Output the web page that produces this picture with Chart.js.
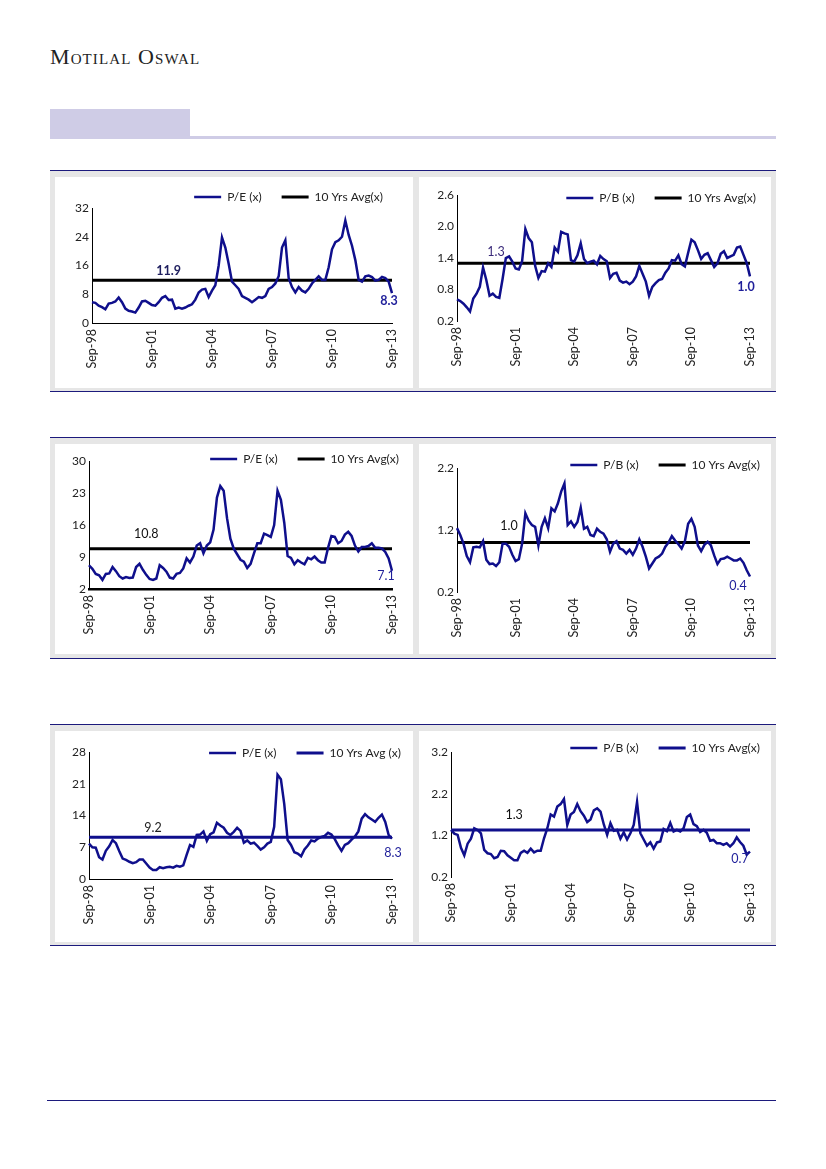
<!DOCTYPE html>
<html>
<head>
<meta charset="utf-8">
<script src="https://cdn.jsdelivr.net/npm/chart.js@4.4.1/dist/chart.umd.min.js"></script>
<style>
  body { margin: 0; background: #fff; }
  #page { position: relative; width: 826px; height: 1169px; background: #fff; overflow: hidden; }
  .abs { position: absolute; }
  .brand { left: 50px; top: 44px; font-family: "Liberation Serif", serif; font-variant: small-caps; font-size: 22px; letter-spacing: 1.1px; color: #222; }
  .tab { left: 50px; top: 109px; width: 140px; height: 30px; background: #cfcce6; }
  .tabline { left: 190px; top: 136px; width: 586px; height: 3px; background: #cfcce6; }
  .band { left: 50px; width: 726px; height: 220px; background: #e6e6e6; border-top: 1.5px solid #1c1a7c; border-bottom: 1.5px solid #1c1a7c; }
  .panel { background: #fff; }
  .foot { left: 47px; top: 1100px; width: 729px; height: 1px; background: #1c1a7c; }
</style>
</head>
<body>
<div id="page">
  <div class="abs brand">Motilal Oswal</div>
  <div class="abs tab"></div>
  <div class="abs tabline"></div>

  <div class="abs band" style="top:170px"></div>
  <div class="abs band" style="top:437px"></div>
  <div class="abs band" style="top:724px"></div>

  <canvas id="c1" class="abs panel" width="358" height="211" style="left:55px;top:177px"></canvas>
  <canvas id="c2" class="abs panel" width="352" height="211" style="left:419px;top:177px"></canvas>
  <canvas id="c3" class="abs panel" width="358" height="210" style="left:55px;top:444px"></canvas>
  <canvas id="c4" class="abs panel" width="352" height="210" style="left:419px;top:444px"></canvas>
  <canvas id="c5" class="abs panel" width="358" height="211" style="left:55px;top:731px"></canvas>
  <canvas id="c6" class="abs panel" width="352" height="211" style="left:419px;top:731px"></canvas>

  <div class="abs foot"></div>
</div>

<script>
// two-monthly points, Sep-98 .. Sep-13
const monthNames = ['Jan','Feb','Mar','Apr','May','Jun','Jul','Aug','Sep','Oct','Nov','Dec'];
const periods = [];
for (let i = 0; i < 91; i++) {
  const m = 8 + 2 * i;
  periods.push(monthNames[m % 12] + '-' + String((98 + Math.floor(m / 12)) % 100).padStart(2, '0'));
}
const tickLabels = ['Sep-98', 'Sep-01', 'Sep-04', 'Sep-07', 'Sep-10', 'Sep-13'];

const pe1 = [5.8,5.6,4.8,4.4,3.8,5.4,5.6,6.0,7.1,5.8,
  4.0,3.4,3.2,2.9,4.3,6.0,6.2,5.6,5.0,4.8,
  5.8,7.0,7.5,6.4,6.5,4.0,4.3,4.0,4.3,4.8,
  5.2,6.5,8.5,9.3,9.5,7.2,9.0,10.5,16.0,23.8,
  21.0,16.5,11.5,10.5,9.5,7.5,7.0,6.5,5.8,6.5,
  7.2,7.0,7.5,9.5,10.0,11.0,13.0,21.0,23.0,12.5,
  10.0,8.5,10.0,9.0,8.5,9.5,11.0,12.0,13.0,12.0,
  12.0,15.5,20.5,22.5,23.0,24.0,28.5,24.5,21.5,17.5,
  12.0,11.5,13.0,13.2,12.8,11.8,12.0,12.8,12.5,11.5,
  8.3];
const pb1 = [0.61,0.58,0.53,0.46,0.38,0.63,0.72,0.85,1.22,0.98,
  0.68,0.72,0.66,0.64,1.00,1.40,1.43,1.33,1.20,1.18,
  1.34,1.95,1.78,1.70,1.25,1.02,1.15,1.14,1.30,1.23,
  1.60,1.52,1.90,1.87,1.85,1.36,1.33,1.45,1.68,1.38,
  1.30,1.33,1.35,1.28,1.44,1.38,1.34,1.02,1.10,1.12,
  0.97,0.93,0.95,0.90,0.95,1.05,1.25,1.10,0.95,0.68,
  0.85,0.92,0.98,1.00,1.12,1.20,1.36,1.35,1.45,1.28,
  1.24,1.50,1.75,1.70,1.55,1.38,1.46,1.49,1.36,1.23,
  1.30,1.48,1.53,1.40,1.43,1.46,1.60,1.62,1.46,1.30,
  1.05];
const pe2 = [7.2,6.4,5.3,5.0,4.0,5.3,5.4,6.8,5.9,4.8,
  4.3,4.6,4.4,4.5,6.8,7.5,6.2,5.1,4.2,4.0,
  4.3,7.2,6.6,5.8,4.5,4.3,5.3,5.5,6.5,8.7,
  7.8,9.1,11.5,12.0,9.8,11.5,12.2,15.0,22.0,24.5,
  23.5,17.5,13.0,10.8,9.6,8.4,8.0,6.6,7.5,9.8,
  12.0,12.0,14.1,13.8,13.4,16.0,23.5,21.5,16.5,9.2,
  8.8,7.4,8.3,7.8,7.4,8.8,8.5,9.1,8.3,7.8,
  7.8,11.0,13.6,13.4,12.0,12.5,13.9,14.5,13.6,11.5,
  10.2,11.2,11.2,11.4,12.0,11.0,11.0,10.9,10.1,8.7,
  6.0];
const pb2 = [1.23,1.12,0.98,0.78,0.68,0.92,0.93,0.92,1.02,0.72,
  0.65,0.66,0.62,0.68,0.98,0.98,0.93,0.80,0.70,0.73,
  0.98,1.47,1.35,1.28,1.25,0.95,1.25,1.39,1.23,1.55,
  1.50,1.63,1.82,1.95,1.28,1.34,1.25,1.33,1.56,1.22,
  1.25,1.12,1.10,1.22,1.17,1.14,1.05,0.85,0.98,1.02,
  0.90,0.88,0.82,0.88,0.80,0.90,1.05,0.93,0.77,0.58,
  0.66,0.74,0.77,0.82,0.93,1.00,1.10,1.03,0.97,0.90,
  1.02,1.30,1.38,1.25,0.95,0.86,0.96,1.01,0.95,0.79,
  0.65,0.73,0.74,0.77,0.74,0.71,0.71,0.74,0.67,0.55,
  0.45];
const pe3 = [7.8,7.0,6.9,4.8,4.3,6.2,7.2,8.6,7.9,6.1,
  4.5,4.2,3.8,3.5,3.7,4.3,4.3,3.4,2.5,2.0,
  2.0,2.6,2.4,2.6,2.7,2.5,2.9,2.7,3.0,5.3,
  7.5,7.1,9.7,9.8,10.5,8.4,9.9,10.3,12.4,11.8,
  11.3,10.2,9.7,10.4,11.3,10.6,8.0,8.5,7.8,8.0,
  7.3,6.5,7.0,7.8,8.2,11.5,23.0,22.0,16.5,8.6,
  7.5,5.9,5.6,5.0,6.5,7.4,8.5,8.3,8.9,9.3,
  9.5,10.2,9.8,8.8,7.4,6.2,7.5,7.9,8.7,9.4,
  10.5,13.3,14.3,13.6,13.1,12.6,13.5,14.2,12.6,9.7,
  8.9];
const pb3 = [1.33,1.24,1.21,0.90,0.72,1.00,1.12,1.37,1.33,1.25,
  0.85,0.77,0.75,0.65,0.68,0.83,0.82,0.72,0.66,0.60,
  0.60,0.78,0.83,0.78,0.88,0.79,0.83,0.83,1.13,1.37,
  1.70,1.65,1.89,1.95,2.07,1.45,1.70,1.76,1.95,1.78,
  1.67,1.52,1.58,1.80,1.85,1.77,1.46,1.21,1.49,1.31,
  1.33,1.12,1.27,1.10,1.25,1.45,2.00,1.25,1.10,0.95,
  1.03,0.88,1.03,1.05,1.35,1.30,1.50,1.29,1.33,1.29,
  1.37,1.64,1.70,1.47,1.42,1.28,1.33,1.26,1.07,1.09,
  1.01,1.01,0.97,1.01,0.93,1.01,1.15,1.04,0.95,0.74,
  0.81];

const avgValues = [11.9, 1.3, 10.8, 1.0, 9.2, 1.33];
const lastLabels = ['8.3', '1.0', '7.1', '0.4', '8.3', '0.7'];

const NAVY = '#0f0f8c';
const FONT = 'Lato, "Open Sans", sans-serif';
Chart.defaults.font.family = FONT;

function makeChart(id, c) {
  const ctx = document.getElementById(id);

  // put the legend exactly where the picture has it
  const legendPlacer = {
    id: 'legendPlacer',
    afterLayout(chart) {
      const lg = chart.legend;
      lg.top = c.legendY - 20 - 6;
      lg.height = 40;
      lg.bottom = lg.top + 40;
      lg.right = c.legendEnd + 20;
    }
  };

  // avg value above the line and last value near the end
  const valueLabels = {
    id: 'valueLabels',
    afterDraw(chart) {
      const x = chart.scales.x, y = chart.scales.y, g = chart.ctx;
      const n = c.series.length - 1;
      g.save();
      g.textAlign = 'center';
      g.textBaseline = 'middle';
      g.font = c.avgBold + ' 12.5px ' + FONT;
      g.fillStyle = c.avgText;
      g.fillText(c.avg.toFixed(1), x.getPixelForValue(c.avgAt), y.getPixelForValue(c.avg) + c.avgDy);
      g.font = c.endBold + ' 12.5px ' + FONT;
      g.fillStyle = '#1f1f9a';
      g.fillText(c.last, x.getPixelForValue(n) + c.endDx, y.getPixelForValue(c.series[n]) + c.endDy);
      g.restore();
    }
  };

  new Chart(ctx, {
    type: 'line',
    data: {
      labels: periods,
      datasets: [
        {
          label: c.name,
          data: c.series,
          borderColor: NAVY,
          backgroundColor: NAVY,
          borderWidth: 2.5,
          pointRadius: 0,
          tension: 0
        },
        {
          label: c.avgName,
          data: [{x: periods[0], y: c.avg}, {x: periods[periods.length - 1], y: c.avg}],
          borderColor: c.avgColor,
          backgroundColor: c.avgColor,
          borderWidth: 3,
          pointRadius: 0
        }
      ]
    },
    options: {
      responsive: false,
      animation: false,
      layout: { padding: { top: c.top - 1, right: c.padR, left: 0, bottom: 0 } },
      plugins: {
        legend: {
          position: 'top',
          align: 'end',
          maxHeight: 1,
          labels: {
            usePointStyle: true,
            pointStyle: 'line',
            pointStyleWidth: 27,
            padding: 20,
            color: '#222',
            font: { size: 12 }
          }
        },
        tooltip: { enabled: false }
      },
      scales: {
        x: {
          grid: { display: false, drawTicks: false },
          border: { display: c.xBorder > 0, color: '#000', width: c.xBorder || 1 },
          ticks: {
            autoSkip: false,
            maxRotation: 90,
            minRotation: 90,
            padding: 6,
            color: '#222',
            font: { size: 12.5 },
            callback: function (v) {
              const l = this.getLabelForValue(v);
              return tickLabels.includes(l) ? l : null;
            }
          },
          afterFit: s => { s.height = c.xh; }
        },
        y: {
          min: c.min,
          max: c.max,
          grid: { display: false, drawTicks: false },
          border: { display: true, color: '#000', width: 1 },
          ticks: {
            stepSize: c.step,
            padding: 3,
            color: '#222',
            font: { size: 12 },
            callback: v => c.dec ? Number(v).toFixed(1) : v
          },
          afterFit: s => { s.width = c.yW; }
        }
      }
    },
    plugins: [legendPlacer, valueLabels]
  });
}

makeChart('c1', { name: 'P/E (x)', avgName: '10 Yrs Avg(x)', series: pe1, avg: avgValues[0], last: lastLabels[0],
  avgColor: '#000', min: 0, max: 32, step: 8, dec: false, xBorder: 1,
  yW: 37, padR: 13, top: 31, xh: 65, legendY: 20, legendEnd: 328,
  avgAt: 23, avgDy: -9, endDx: -3, endDy: 8, avgText: '#1f1f5f', avgBold: 'bold', endBold: 'bold' });
makeChart('c2', { name: 'P/B (x)', avgName: '10 Yrs Avg(x)', series: pb1, avg: avgValues[1], last: lastLabels[1],
  avgColor: '#000', min: 0.2, max: 2.6, step: 0.6, dec: true, xBorder: 0,
  yW: 38, padR: 9, top: 18, xh: 67, legendY: 21, legendEnd: 337,
  avgAt: 12, avgDy: -11, endDx: -4, endDy: 11, avgText: '#3a2a7a', avgBold: 'normal', endBold: 'bold' });
makeChart('c3', { name: 'P/E (x)', avgName: '10 Yrs Avg(x)', series: pe2, avg: avgValues[2], last: lastLabels[2],
  avgColor: '#000', min: 2, max: 30, step: 7, dec: false, xBorder: 2.5,
  yW: 34, padR: 16, top: 17, xh: 65, legendY: 15, legendEnd: 344,
  avgAt: 17, avgDy: -15, endDx: -6, endDy: 5, avgText: '#111', avgBold: 'normal', endBold: 'normal' });
makeChart('c4', { name: 'P/B (x)', avgName: '10 Yrs Avg(x)', series: pb2, avg: avgValues[3], last: lastLabels[3],
  avgColor: '#000', min: 0.2, max: 2.2, step: 1, dec: true, xBorder: 0,
  yW: 38, padR: 9, top: 24, xh: 62, legendY: 21, legendEnd: 341,
  avgAt: 16, avgDy: -16, endDx: -12, endDy: 9, avgText: '#111', avgBold: 'normal', endBold: 'normal' });
makeChart('c5', { name: 'P/E (x)', avgName: '10 Yrs Avg (x)', series: pe3, avg: avgValues[4], last: lastLabels[4],
  avgColor: NAVY, min: 0, max: 28, step: 7, dec: false, xBorder: 1,
  yW: 34, padR: 16, top: 21, xh: 63, legendY: 22, legendEnd: 346,
  avgAt: 19, avgDy: -9, endDx: 1, endDy: 14, avgText: '#222', avgBold: 'normal', endBold: 'normal' });
makeChart('c6', { name: 'P/B (x)', avgName: '10 Yrs Avg(x)', series: pb3, avg: avgValues[5], last: lastLabels[5],
  avgColor: NAVY, min: 0.2, max: 3.2, step: 1, dec: true, xBorder: 0,
  yW: 32, padR: 13, top: 21, xh: 65, legendY: 17, legendEnd: 341,
  avgAt: 19, avgDy: -15, endDx: -10, endDy: 7, avgText: '#111', avgBold: 'normal', endBold: 'normal' });
</script>
</body>
</html>
